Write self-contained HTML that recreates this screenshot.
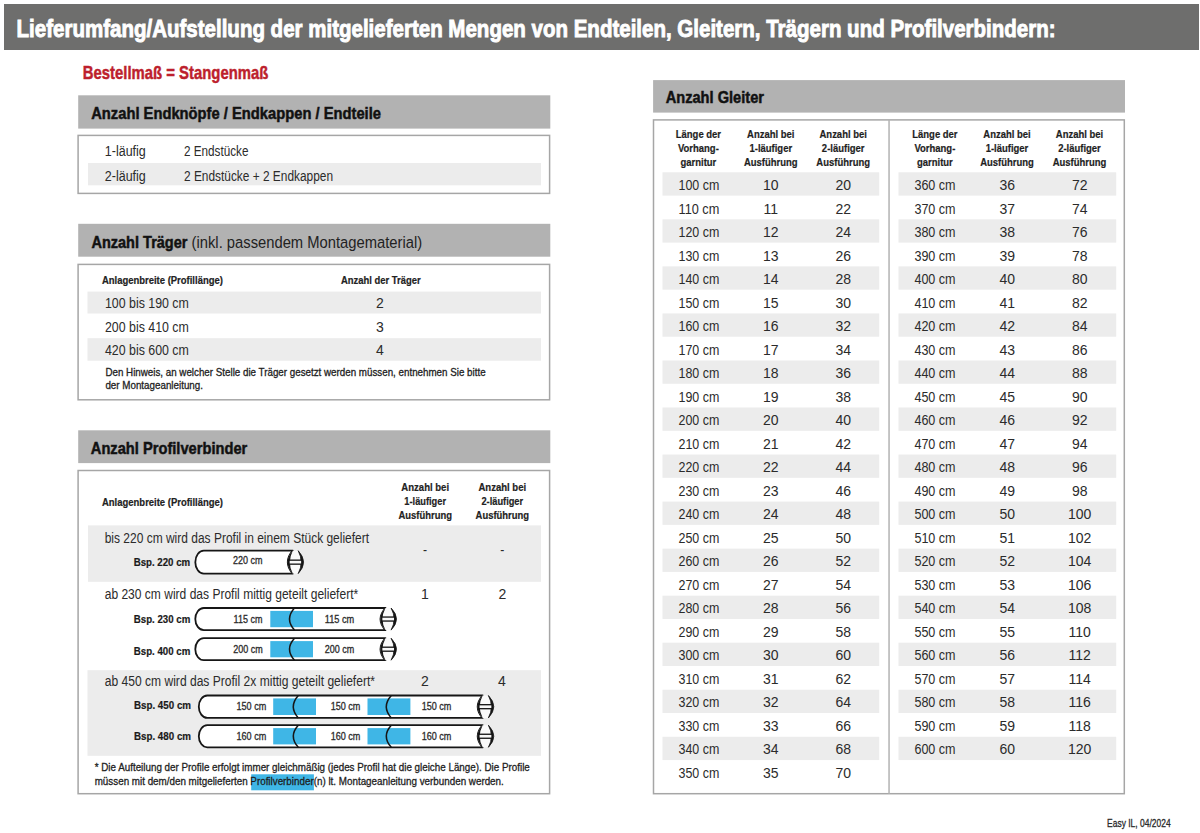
<!DOCTYPE html>
<html><head><meta charset="utf-8"><title>Lieferumfang</title>
<style>html,body{margin:0;padding:0;background:#fff;}body{width:1200px;height:833px;position:relative;overflow:hidden;font-family:"Liberation Sans",sans-serif;}</style>
</head><body>
<svg width="1200" height="833" viewBox="0 0 1200 833" style="position:absolute;left:0;top:0">
<rect x="4.00" y="4.00" width="1195.00" height="46.00" fill="#6e6e6d"/>
<rect x="78.20" y="95.30" width="472.10" height="33.30" fill="#b2b2b2"/>
<rect x="78.10" y="135.40" width="471.50" height="58.00" fill="none" stroke="#a6a6a6" stroke-width="1.5"/>
<rect x="88.00" y="163.00" width="453.00" height="22.30" fill="#ececec"/>
<rect x="78.20" y="223.80" width="472.10" height="32.90" fill="#b2b2b2"/>
<rect x="78.10" y="264.40" width="471.50" height="135.40" fill="none" stroke="#a6a6a6" stroke-width="1.5"/>
<rect x="87.50" y="291.60" width="453.50" height="21.90" fill="#ececec"/>
<rect x="87.50" y="338.20" width="453.50" height="22.50" fill="#ececec"/>
<rect x="78.20" y="430.30" width="472.10" height="32.80" fill="#b2b2b2"/>
<rect x="78.10" y="470.50" width="471.50" height="323.20" fill="none" stroke="#a6a6a6" stroke-width="1.5"/>
<rect x="88.00" y="525.40" width="453.00" height="56.40" fill="#ececec"/>
<path d="M203.80,550.70 L292.80,550.70 Q282.80,562.15 292.80,573.60 L203.80,573.60 A8.5,11.45 0 0 1 203.80,550.70 Z" fill="#fff" stroke="#161616" stroke-width="1.8" stroke-linejoin="round"/><path d="M292.80,550.70 L298.20,550.70 Q309.00,562.15 298.20,573.60 L292.80,573.60 Q282.80,562.15 292.80,550.70 Z" fill="#fafafa"/><path d="M292.80,550.70 Q282.30,562.15 292.80,573.60 Q286.80,562.15 292.80,550.70 Z" fill="#161616"/><path d="M298.20,550.70 Q309.00,562.15 298.20,573.60 Q304.20,562.15 298.20,550.70 Z" fill="#161616" stroke="#161616" stroke-width="0.8"/><rect x="289.00" y="560.15" width="12.80" height="4.0" fill="#f8f8f8" stroke="#111" stroke-width="1.3"/>
<path d="M203.80,608.00 L385.50,608.00 Q375.50,619.05 385.50,630.10 L203.80,630.10 A8.5,11.05 0 0 1 203.80,608.00 Z" fill="#fff" stroke="#161616" stroke-width="1.8" stroke-linejoin="round"/><rect x="270.30" y="610.90" width="42.70" height="16.30" fill="#3fb6e6"/><path d="M294.50,608.00 Q284.50,619.05 294.50,630.10" fill="none" stroke="#161616" stroke-width="1.5"/><path d="M385.50,608.00 L391.10,608.00 Q401.90,619.05 391.10,630.10 L385.50,630.10 Q375.50,619.05 385.50,608.00 Z" fill="#fafafa"/><path d="M385.50,608.00 Q375.00,619.05 385.50,630.10 Q379.50,619.05 385.50,608.00 Z" fill="#161616"/><path d="M391.10,608.00 Q401.90,619.05 391.10,630.10 Q397.10,619.05 391.10,608.00 Z" fill="#161616" stroke="#161616" stroke-width="0.8"/><rect x="381.70" y="617.05" width="13.00" height="4.0" fill="#f8f8f8" stroke="#111" stroke-width="1.3"/>
<path d="M203.80,638.20 L385.50,638.20 Q375.50,649.20 385.50,660.20 L203.80,660.20 A8.5,11.00 0 0 1 203.80,638.20 Z" fill="#fff" stroke="#161616" stroke-width="1.8" stroke-linejoin="round"/><rect x="270.30" y="641.10" width="42.70" height="16.20" fill="#3fb6e6"/><path d="M294.50,638.20 Q284.50,649.20 294.50,660.20" fill="none" stroke="#161616" stroke-width="1.5"/><path d="M385.50,638.20 L391.10,638.20 Q401.90,649.20 391.10,660.20 L385.50,660.20 Q375.50,649.20 385.50,638.20 Z" fill="#fafafa"/><path d="M385.50,638.20 Q375.00,649.20 385.50,660.20 Q379.50,649.20 385.50,638.20 Z" fill="#161616"/><path d="M391.10,638.20 Q401.90,649.20 391.10,660.20 Q397.10,649.20 391.10,638.20 Z" fill="#161616" stroke="#161616" stroke-width="0.8"/><rect x="381.70" y="647.20" width="13.00" height="4.0" fill="#f8f8f8" stroke="#111" stroke-width="1.3"/>
<rect x="87.50" y="670.20" width="453.50" height="85.60" fill="#ececec"/>
<path d="M207.30,695.50 L482.70,695.50 Q472.70,706.70 482.70,717.90 L207.30,717.90 A8.5,11.20 0 0 1 207.30,695.50 Z" fill="#fff" stroke="#161616" stroke-width="1.8" stroke-linejoin="round"/><rect x="273.20" y="698.40" width="42.80" height="16.60" fill="#3fb6e6"/><rect x="367.50" y="698.40" width="42.90" height="16.60" fill="#3fb6e6"/><path d="M298.30,695.50 Q288.30,706.70 298.30,717.90" fill="none" stroke="#161616" stroke-width="1.5"/><path d="M391.30,695.50 Q381.30,706.70 391.30,717.90" fill="none" stroke="#161616" stroke-width="1.5"/><path d="M482.70,695.50 L488.40,695.50 Q499.20,706.70 488.40,717.90 L482.70,717.90 Q472.70,706.70 482.70,695.50 Z" fill="#fafafa"/><path d="M482.70,695.50 Q472.20,706.70 482.70,717.90 Q476.70,706.70 482.70,695.50 Z" fill="#161616"/><path d="M488.40,695.50 Q499.20,706.70 488.40,717.90 Q494.40,706.70 488.40,695.50 Z" fill="#161616" stroke="#161616" stroke-width="0.8"/><rect x="478.90" y="704.70" width="13.10" height="4.0" fill="#f8f8f8" stroke="#111" stroke-width="1.3"/>
<path d="M207.30,725.20 L482.70,725.20 Q472.70,736.25 482.70,747.30 L207.30,747.30 A8.5,11.05 0 0 1 207.30,725.20 Z" fill="#fff" stroke="#161616" stroke-width="1.8" stroke-linejoin="round"/><rect x="273.20" y="728.10" width="42.80" height="16.30" fill="#3fb6e6"/><rect x="367.50" y="728.10" width="42.90" height="16.30" fill="#3fb6e6"/><path d="M298.30,725.20 Q288.30,736.25 298.30,747.30" fill="none" stroke="#161616" stroke-width="1.5"/><path d="M391.30,725.20 Q381.30,736.25 391.30,747.30" fill="none" stroke="#161616" stroke-width="1.5"/><path d="M482.70,725.20 L488.40,725.20 Q499.20,736.25 488.40,747.30 L482.70,747.30 Q472.70,736.25 482.70,725.20 Z" fill="#fafafa"/><path d="M482.70,725.20 Q472.20,736.25 482.70,747.30 Q476.70,736.25 482.70,725.20 Z" fill="#161616"/><path d="M488.40,725.20 Q499.20,736.25 488.40,747.30 Q494.40,736.25 488.40,725.20 Z" fill="#161616" stroke="#161616" stroke-width="0.8"/><rect x="478.90" y="734.25" width="13.10" height="4.0" fill="#f8f8f8" stroke="#111" stroke-width="1.3"/>
<rect x="251.20" y="774.30" width="62.70" height="16.00" fill="#3fb6e6"/>
<rect x="653.10" y="80.10" width="471.90" height="32.50" fill="#b2b2b2"/>
<rect x="653.50" y="119.90" width="470.80" height="673.80" fill="none" stroke="#a6a6a6" stroke-width="1.5"/>
<rect x="888.30" y="119.90" width="1.50" height="673.80" fill="#b3b3b3"/>
<rect x="662.50" y="172.30" width="216.70" height="23.30" fill="#ececec"/>
<rect x="662.50" y="219.34" width="216.70" height="23.30" fill="#ececec"/>
<rect x="662.50" y="266.38" width="216.70" height="23.30" fill="#ececec"/>
<rect x="662.50" y="313.42" width="216.70" height="23.30" fill="#ececec"/>
<rect x="662.50" y="360.46" width="216.70" height="23.30" fill="#ececec"/>
<rect x="662.50" y="407.50" width="216.70" height="23.30" fill="#ececec"/>
<rect x="662.50" y="454.54" width="216.70" height="23.30" fill="#ececec"/>
<rect x="662.50" y="501.58" width="216.70" height="23.30" fill="#ececec"/>
<rect x="662.50" y="548.62" width="216.70" height="23.30" fill="#ececec"/>
<rect x="662.50" y="595.66" width="216.70" height="23.30" fill="#ececec"/>
<rect x="662.50" y="642.70" width="216.70" height="23.30" fill="#ececec"/>
<rect x="662.50" y="689.74" width="216.70" height="23.30" fill="#ececec"/>
<rect x="662.50" y="736.78" width="216.70" height="23.30" fill="#ececec"/>
<rect x="898.50" y="172.30" width="217.70" height="23.30" fill="#ececec"/>
<rect x="898.50" y="219.34" width="217.70" height="23.30" fill="#ececec"/>
<rect x="898.50" y="266.38" width="217.70" height="23.30" fill="#ececec"/>
<rect x="898.50" y="313.42" width="217.70" height="23.30" fill="#ececec"/>
<rect x="898.50" y="360.46" width="217.70" height="23.30" fill="#ececec"/>
<rect x="898.50" y="407.50" width="217.70" height="23.30" fill="#ececec"/>
<rect x="898.50" y="454.54" width="217.70" height="23.30" fill="#ececec"/>
<rect x="898.50" y="501.58" width="217.70" height="23.30" fill="#ececec"/>
<rect x="898.50" y="548.62" width="217.70" height="23.30" fill="#ececec"/>
<rect x="898.50" y="595.66" width="217.70" height="23.30" fill="#ececec"/>
<rect x="898.50" y="642.70" width="217.70" height="23.30" fill="#ececec"/>
<rect x="898.50" y="689.74" width="217.70" height="23.30" fill="#ececec"/>
<rect x="898.50" y="736.78" width="217.70" height="23.30" fill="#ececec"/>
<g font-family='"Liberation Sans", sans-serif' xml:space="preserve">
<text x="16.60" y="36.50" font-size="24.2" font-weight="bold" fill="#ffffff" stroke="#ffffff" stroke-width="0.9" textLength="1039.00" lengthAdjust="spacingAndGlyphs">Lieferumfang/Aufstellung der mitgelieferten Mengen von Endteilen, Gleitern, Trägern und Profilverbindern:</text>
<text x="82.80" y="79.30" font-size="17.7" font-weight="bold" fill="#bd1f2d" stroke="#bd1f2d" stroke-width="0.45" textLength="185.60" lengthAdjust="spacingAndGlyphs">Bestellmaß = Stangenmaß</text>
<text x="91.20" y="118.80" font-size="16.9" font-weight="bold" fill="#111111" stroke="#111111" stroke-width="0.5" textLength="289.80" lengthAdjust="spacingAndGlyphs">Anzahl Endknöpfe / Endkappen / Endteile</text>
<text x="104.80" y="156.10" font-size="14" fill="#2b2b2b" textLength="41.00" lengthAdjust="spacingAndGlyphs">1-läufig</text>
<text x="184.00" y="156.10" font-size="14" fill="#2b2b2b" textLength="64.50" lengthAdjust="spacingAndGlyphs">2 Endstücke</text>
<text x="104.80" y="180.70" font-size="14" fill="#2b2b2b" textLength="41.00" lengthAdjust="spacingAndGlyphs">2-läufig</text>
<text x="184.00" y="180.70" font-size="14" fill="#2b2b2b" textLength="149.00" lengthAdjust="spacingAndGlyphs">2 Endstücke + 2 Endkappen</text>
<text x="91.40" y="247.50" font-size="16.9" font-weight="bold" fill="#111111" stroke="#111111" stroke-width="0.5" textLength="96.10" lengthAdjust="spacingAndGlyphs">Anzahl Träger</text>
<text x="191.60" y="247.50" font-size="16.7" fill="#222" textLength="230.50" lengthAdjust="spacingAndGlyphs">(inkl. passendem Montagematerial)</text>
<text x="101.90" y="284.40" font-size="10.9" font-weight="bold" fill="#222" stroke="#222" stroke-width="0.2" textLength="121.00" lengthAdjust="spacingAndGlyphs">Anlagenbreite (Profillänge)</text>
<text x="341.00" y="284.40" font-size="10.9" font-weight="bold" fill="#222" stroke="#222" stroke-width="0.2" textLength="79.60" lengthAdjust="spacingAndGlyphs">Anzahl der Träger</text>
<text x="104.90" y="308.10" font-size="14" fill="#2b2b2b" textLength="84.00" lengthAdjust="spacingAndGlyphs">100 bis 190 cm</text>
<text x="376.10" y="308.10" font-size="14" fill="#2b2b2b" textLength="7.80" lengthAdjust="spacingAndGlyphs">2</text>
<text x="104.90" y="331.50" font-size="14" fill="#2b2b2b" textLength="84.00" lengthAdjust="spacingAndGlyphs">200 bis 410 cm</text>
<text x="376.10" y="331.50" font-size="14" fill="#2b2b2b" textLength="7.80" lengthAdjust="spacingAndGlyphs">3</text>
<text x="104.90" y="355.30" font-size="14" fill="#2b2b2b" textLength="84.00" lengthAdjust="spacingAndGlyphs">420 bis 600 cm</text>
<text x="376.10" y="355.30" font-size="14" fill="#2b2b2b" textLength="7.80" lengthAdjust="spacingAndGlyphs">4</text>
<text x="105.40" y="376.40" font-size="10.9" fill="#222" stroke="#222" stroke-width="0.3" textLength="380.20" lengthAdjust="spacingAndGlyphs">Den Hinweis, an welcher Stelle die Träger gesetzt werden müssen, entnehmen Sie bitte</text>
<text x="105.40" y="389.40" font-size="10.9" fill="#222" stroke="#222" stroke-width="0.3" textLength="97.60" lengthAdjust="spacingAndGlyphs">der Montageanleitung.</text>
<text x="90.80" y="453.50" font-size="16.9" font-weight="bold" fill="#111111" stroke="#111111" stroke-width="0.5" textLength="156.50" lengthAdjust="spacingAndGlyphs">Anzahl Profilverbinder</text>
<text x="102.00" y="505.50" font-size="10.9" font-weight="bold" fill="#222" stroke="#222" stroke-width="0.2" textLength="121.00" lengthAdjust="spacingAndGlyphs">Anlagenbreite (Profillänge)</text>
<text x="401.35" y="491.00" font-size="10.9" font-weight="bold" fill="#222" stroke="#222" stroke-width="0.2" textLength="47.70" lengthAdjust="spacingAndGlyphs">Anzahl bei</text>
<text x="404.36" y="504.90" font-size="10.9" font-weight="bold" fill="#222" stroke="#222" stroke-width="0.2" textLength="41.68" lengthAdjust="spacingAndGlyphs">1-läufiger</text>
<text x="398.50" y="518.80" font-size="10.9" font-weight="bold" fill="#222" stroke="#222" stroke-width="0.2" textLength="53.40" lengthAdjust="spacingAndGlyphs">Ausführung</text>
<text x="478.45" y="491.00" font-size="10.9" font-weight="bold" fill="#222" stroke="#222" stroke-width="0.2" textLength="47.70" lengthAdjust="spacingAndGlyphs">Anzahl bei</text>
<text x="481.46" y="504.90" font-size="10.9" font-weight="bold" fill="#222" stroke="#222" stroke-width="0.2" textLength="41.68" lengthAdjust="spacingAndGlyphs">2-läufiger</text>
<text x="475.60" y="518.80" font-size="10.9" font-weight="bold" fill="#222" stroke="#222" stroke-width="0.2" textLength="53.40" lengthAdjust="spacingAndGlyphs">Ausführung</text>
<text x="104.70" y="543.10" font-size="14" fill="#2b2b2b" textLength="264.40" lengthAdjust="spacingAndGlyphs">bis 220 cm wird das Profil in einem Stück geliefert</text>
<text x="422.97" y="555.30" font-size="14" fill="#2b2b2b" textLength="4.06" lengthAdjust="spacingAndGlyphs">-</text>
<text x="500.27" y="555.30" font-size="14" fill="#2b2b2b" textLength="4.06" lengthAdjust="spacingAndGlyphs">-</text>
<text x="133.70" y="566.10" font-size="11.6" font-weight="bold" fill="#1a1a1a" stroke="#1a1a1a" stroke-width="0.2" textLength="56.50" lengthAdjust="spacingAndGlyphs">Bsp. 220 cm</text>
<text x="232.95" y="564.40" font-size="10.2" fill="#2b2b2b" stroke="#2b2b2b" stroke-width="0.3" textLength="29.50" lengthAdjust="spacingAndGlyphs">220 cm</text>
<text x="104.70" y="598.70" font-size="14" fill="#2b2b2b" textLength="253.50" lengthAdjust="spacingAndGlyphs">ab 230 cm wird das Profil mittig geteilt geliefert*</text>
<text x="421.10" y="599.30" font-size="14" fill="#2b2b2b" textLength="7.80" lengthAdjust="spacingAndGlyphs">1</text>
<text x="498.40" y="599.30" font-size="14" fill="#2b2b2b" textLength="7.80" lengthAdjust="spacingAndGlyphs">2</text>
<text x="133.80" y="623.00" font-size="11.6" font-weight="bold" fill="#1a1a1a" stroke="#1a1a1a" stroke-width="0.2" textLength="56.50" lengthAdjust="spacingAndGlyphs">Bsp. 230 cm</text>
<text x="133.80" y="654.50" font-size="11.6" font-weight="bold" fill="#1a1a1a" stroke="#1a1a1a" stroke-width="0.2" textLength="56.50" lengthAdjust="spacingAndGlyphs">Bsp. 400 cm</text>
<text x="233.60" y="622.50" font-size="10.2" fill="#2b2b2b" stroke="#2b2b2b" stroke-width="0.3" textLength="28.80" lengthAdjust="spacingAndGlyphs">115 cm</text>
<text x="324.75" y="622.50" font-size="10.2" fill="#2b2b2b" stroke="#2b2b2b" stroke-width="0.3" textLength="29.50" lengthAdjust="spacingAndGlyphs">115 cm</text>
<text x="233.25" y="652.70" font-size="10.2" fill="#2b2b2b" stroke="#2b2b2b" stroke-width="0.3" textLength="29.50" lengthAdjust="spacingAndGlyphs">200 cm</text>
<text x="324.75" y="652.70" font-size="10.2" fill="#2b2b2b" stroke="#2b2b2b" stroke-width="0.3" textLength="29.50" lengthAdjust="spacingAndGlyphs">200 cm</text>
<text x="104.80" y="686.00" font-size="14" fill="#2b2b2b" textLength="270.20" lengthAdjust="spacingAndGlyphs">ab 450 cm wird das Profil 2x mittig geteilt geliefert*</text>
<text x="420.90" y="686.00" font-size="14" fill="#2b2b2b" textLength="7.80" lengthAdjust="spacingAndGlyphs">2</text>
<text x="498.10" y="686.00" font-size="14" fill="#2b2b2b" textLength="7.80" lengthAdjust="spacingAndGlyphs">4</text>
<text x="134.00" y="708.80" font-size="11.6" font-weight="bold" fill="#1a1a1a" stroke="#1a1a1a" stroke-width="0.2" textLength="57.00" lengthAdjust="spacingAndGlyphs">Bsp. 450 cm</text>
<text x="134.00" y="740.00" font-size="11.6" font-weight="bold" fill="#1a1a1a" stroke="#1a1a1a" stroke-width="0.2" textLength="57.00" lengthAdjust="spacingAndGlyphs">Bsp. 480 cm</text>
<text x="236.55" y="710.30" font-size="10.2" fill="#2b2b2b" stroke="#2b2b2b" stroke-width="0.3" textLength="29.70" lengthAdjust="spacingAndGlyphs">150 cm</text>
<text x="330.65" y="710.30" font-size="10.2" fill="#2b2b2b" stroke="#2b2b2b" stroke-width="0.3" textLength="29.70" lengthAdjust="spacingAndGlyphs">150 cm</text>
<text x="421.65" y="710.30" font-size="10.2" fill="#2b2b2b" stroke="#2b2b2b" stroke-width="0.3" textLength="29.70" lengthAdjust="spacingAndGlyphs">150 cm</text>
<text x="236.55" y="739.80" font-size="10.2" fill="#2b2b2b" stroke="#2b2b2b" stroke-width="0.3" textLength="29.70" lengthAdjust="spacingAndGlyphs">160 cm</text>
<text x="330.65" y="739.80" font-size="10.2" fill="#2b2b2b" stroke="#2b2b2b" stroke-width="0.3" textLength="29.70" lengthAdjust="spacingAndGlyphs">160 cm</text>
<text x="421.65" y="739.80" font-size="10.2" fill="#2b2b2b" stroke="#2b2b2b" stroke-width="0.3" textLength="29.70" lengthAdjust="spacingAndGlyphs">160 cm</text>
<text x="94.70" y="770.80" font-size="10.9" fill="#1e1e1e" stroke="#1e1e1e" stroke-width="0.3" textLength="435.10" lengthAdjust="spacingAndGlyphs">* Die Aufteilung der Profile erfolgt immer gleichmäßig (jedes Profil hat die gleiche Länge). Die Profile</text>
<text x="94.70" y="784.70" font-size="10.9" fill="#1e1e1e" stroke="#1e1e1e" stroke-width="0.3" textLength="409.10" lengthAdjust="spacingAndGlyphs">müssen mit dem/den mitgelieferten Profilverbinder(n) lt. Montageanleitung verbunden werden.</text>
<text x="665.70" y="102.70" font-size="16.9" font-weight="bold" fill="#111111" stroke="#111111" stroke-width="0.5" textLength="98.30" lengthAdjust="spacingAndGlyphs">Anzahl Gleiter</text>
<text x="675.76" y="137.90" font-size="10.9" font-weight="bold" fill="#1e1e1e" stroke="#1e1e1e" stroke-width="0.2" textLength="45.28" lengthAdjust="spacingAndGlyphs">Länge der</text>
<text x="677.95" y="152.10" font-size="10.9" font-weight="bold" fill="#1e1e1e" stroke="#1e1e1e" stroke-width="0.2" textLength="40.89" lengthAdjust="spacingAndGlyphs">Vorhang-</text>
<text x="680.50" y="166.00" font-size="10.9" font-weight="bold" fill="#1e1e1e" stroke="#1e1e1e" stroke-width="0.2" textLength="35.81" lengthAdjust="spacingAndGlyphs">garnitur</text>
<text x="747.11" y="137.90" font-size="10.9" font-weight="bold" fill="#1e1e1e" stroke="#1e1e1e" stroke-width="0.2" textLength="47.39" lengthAdjust="spacingAndGlyphs">Anzahl bei</text>
<text x="749.47" y="152.10" font-size="10.9" font-weight="bold" fill="#1e1e1e" stroke="#1e1e1e" stroke-width="0.2" textLength="42.66" lengthAdjust="spacingAndGlyphs">1-läufiger</text>
<text x="743.96" y="166.00" font-size="10.9" font-weight="bold" fill="#1e1e1e" stroke="#1e1e1e" stroke-width="0.2" textLength="53.68" lengthAdjust="spacingAndGlyphs">Ausführung</text>
<text x="819.51" y="137.90" font-size="10.9" font-weight="bold" fill="#1e1e1e" stroke="#1e1e1e" stroke-width="0.2" textLength="47.39" lengthAdjust="spacingAndGlyphs">Anzahl bei</text>
<text x="821.87" y="152.10" font-size="10.9" font-weight="bold" fill="#1e1e1e" stroke="#1e1e1e" stroke-width="0.2" textLength="42.66" lengthAdjust="spacingAndGlyphs">2-läufiger</text>
<text x="816.36" y="166.00" font-size="10.9" font-weight="bold" fill="#1e1e1e" stroke="#1e1e1e" stroke-width="0.2" textLength="53.68" lengthAdjust="spacingAndGlyphs">Ausführung</text>
<text x="912.26" y="137.90" font-size="10.9" font-weight="bold" fill="#1e1e1e" stroke="#1e1e1e" stroke-width="0.2" textLength="45.28" lengthAdjust="spacingAndGlyphs">Länge der</text>
<text x="914.45" y="152.10" font-size="10.9" font-weight="bold" fill="#1e1e1e" stroke="#1e1e1e" stroke-width="0.2" textLength="40.89" lengthAdjust="spacingAndGlyphs">Vorhang-</text>
<text x="917.00" y="166.00" font-size="10.9" font-weight="bold" fill="#1e1e1e" stroke="#1e1e1e" stroke-width="0.2" textLength="35.81" lengthAdjust="spacingAndGlyphs">garnitur</text>
<text x="983.31" y="137.90" font-size="10.9" font-weight="bold" fill="#1e1e1e" stroke="#1e1e1e" stroke-width="0.2" textLength="47.39" lengthAdjust="spacingAndGlyphs">Anzahl bei</text>
<text x="985.67" y="152.10" font-size="10.9" font-weight="bold" fill="#1e1e1e" stroke="#1e1e1e" stroke-width="0.2" textLength="42.66" lengthAdjust="spacingAndGlyphs">1-läufiger</text>
<text x="980.16" y="166.00" font-size="10.9" font-weight="bold" fill="#1e1e1e" stroke="#1e1e1e" stroke-width="0.2" textLength="53.68" lengthAdjust="spacingAndGlyphs">Ausführung</text>
<text x="1055.81" y="137.90" font-size="10.9" font-weight="bold" fill="#1e1e1e" stroke="#1e1e1e" stroke-width="0.2" textLength="47.39" lengthAdjust="spacingAndGlyphs">Anzahl bei</text>
<text x="1058.17" y="152.10" font-size="10.9" font-weight="bold" fill="#1e1e1e" stroke="#1e1e1e" stroke-width="0.2" textLength="42.66" lengthAdjust="spacingAndGlyphs">2-läufiger</text>
<text x="1052.66" y="166.00" font-size="10.9" font-weight="bold" fill="#1e1e1e" stroke="#1e1e1e" stroke-width="0.2" textLength="53.68" lengthAdjust="spacingAndGlyphs">Ausführung</text>
<text x="678.50" y="190.00" font-size="14" fill="#2b2b2b" textLength="40.80" lengthAdjust="spacingAndGlyphs">100 cm</text>
<text x="763.01" y="190.00" font-size="14" fill="#2b2b2b" textLength="15.58" lengthAdjust="spacingAndGlyphs">10</text>
<text x="835.51" y="190.00" font-size="14" fill="#2b2b2b" textLength="15.58" lengthAdjust="spacingAndGlyphs">20</text>
<text x="678.50" y="213.52" font-size="14" fill="#2b2b2b" textLength="40.80" lengthAdjust="spacingAndGlyphs">110 cm</text>
<text x="763.53" y="213.52" font-size="14" fill="#2b2b2b" textLength="14.55" lengthAdjust="spacingAndGlyphs">11</text>
<text x="835.51" y="213.52" font-size="14" fill="#2b2b2b" textLength="15.58" lengthAdjust="spacingAndGlyphs">22</text>
<text x="678.50" y="237.04" font-size="14" fill="#2b2b2b" textLength="40.80" lengthAdjust="spacingAndGlyphs">120 cm</text>
<text x="763.01" y="237.04" font-size="14" fill="#2b2b2b" textLength="15.58" lengthAdjust="spacingAndGlyphs">12</text>
<text x="835.51" y="237.04" font-size="14" fill="#2b2b2b" textLength="15.58" lengthAdjust="spacingAndGlyphs">24</text>
<text x="678.50" y="260.56" font-size="14" fill="#2b2b2b" textLength="40.80" lengthAdjust="spacingAndGlyphs">130 cm</text>
<text x="763.01" y="260.56" font-size="14" fill="#2b2b2b" textLength="15.58" lengthAdjust="spacingAndGlyphs">13</text>
<text x="835.51" y="260.56" font-size="14" fill="#2b2b2b" textLength="15.58" lengthAdjust="spacingAndGlyphs">26</text>
<text x="678.50" y="284.08" font-size="14" fill="#2b2b2b" textLength="40.80" lengthAdjust="spacingAndGlyphs">140 cm</text>
<text x="763.01" y="284.08" font-size="14" fill="#2b2b2b" textLength="15.58" lengthAdjust="spacingAndGlyphs">14</text>
<text x="835.51" y="284.08" font-size="14" fill="#2b2b2b" textLength="15.58" lengthAdjust="spacingAndGlyphs">28</text>
<text x="678.50" y="307.60" font-size="14" fill="#2b2b2b" textLength="40.80" lengthAdjust="spacingAndGlyphs">150 cm</text>
<text x="763.01" y="307.60" font-size="14" fill="#2b2b2b" textLength="15.58" lengthAdjust="spacingAndGlyphs">15</text>
<text x="835.51" y="307.60" font-size="14" fill="#2b2b2b" textLength="15.58" lengthAdjust="spacingAndGlyphs">30</text>
<text x="678.50" y="331.12" font-size="14" fill="#2b2b2b" textLength="40.80" lengthAdjust="spacingAndGlyphs">160 cm</text>
<text x="763.01" y="331.12" font-size="14" fill="#2b2b2b" textLength="15.58" lengthAdjust="spacingAndGlyphs">16</text>
<text x="835.51" y="331.12" font-size="14" fill="#2b2b2b" textLength="15.58" lengthAdjust="spacingAndGlyphs">32</text>
<text x="678.50" y="354.64" font-size="14" fill="#2b2b2b" textLength="40.80" lengthAdjust="spacingAndGlyphs">170 cm</text>
<text x="763.01" y="354.64" font-size="14" fill="#2b2b2b" textLength="15.58" lengthAdjust="spacingAndGlyphs">17</text>
<text x="835.51" y="354.64" font-size="14" fill="#2b2b2b" textLength="15.58" lengthAdjust="spacingAndGlyphs">34</text>
<text x="678.50" y="378.16" font-size="14" fill="#2b2b2b" textLength="40.80" lengthAdjust="spacingAndGlyphs">180 cm</text>
<text x="763.01" y="378.16" font-size="14" fill="#2b2b2b" textLength="15.58" lengthAdjust="spacingAndGlyphs">18</text>
<text x="835.51" y="378.16" font-size="14" fill="#2b2b2b" textLength="15.58" lengthAdjust="spacingAndGlyphs">36</text>
<text x="678.50" y="401.68" font-size="14" fill="#2b2b2b" textLength="40.80" lengthAdjust="spacingAndGlyphs">190 cm</text>
<text x="763.01" y="401.68" font-size="14" fill="#2b2b2b" textLength="15.58" lengthAdjust="spacingAndGlyphs">19</text>
<text x="835.51" y="401.68" font-size="14" fill="#2b2b2b" textLength="15.58" lengthAdjust="spacingAndGlyphs">38</text>
<text x="678.50" y="425.20" font-size="14" fill="#2b2b2b" textLength="40.80" lengthAdjust="spacingAndGlyphs">200 cm</text>
<text x="763.01" y="425.20" font-size="14" fill="#2b2b2b" textLength="15.58" lengthAdjust="spacingAndGlyphs">20</text>
<text x="835.51" y="425.20" font-size="14" fill="#2b2b2b" textLength="15.58" lengthAdjust="spacingAndGlyphs">40</text>
<text x="678.50" y="448.72" font-size="14" fill="#2b2b2b" textLength="40.80" lengthAdjust="spacingAndGlyphs">210 cm</text>
<text x="763.01" y="448.72" font-size="14" fill="#2b2b2b" textLength="15.58" lengthAdjust="spacingAndGlyphs">21</text>
<text x="835.51" y="448.72" font-size="14" fill="#2b2b2b" textLength="15.58" lengthAdjust="spacingAndGlyphs">42</text>
<text x="678.50" y="472.24" font-size="14" fill="#2b2b2b" textLength="40.80" lengthAdjust="spacingAndGlyphs">220 cm</text>
<text x="763.01" y="472.24" font-size="14" fill="#2b2b2b" textLength="15.58" lengthAdjust="spacingAndGlyphs">22</text>
<text x="835.51" y="472.24" font-size="14" fill="#2b2b2b" textLength="15.58" lengthAdjust="spacingAndGlyphs">44</text>
<text x="678.50" y="495.76" font-size="14" fill="#2b2b2b" textLength="40.80" lengthAdjust="spacingAndGlyphs">230 cm</text>
<text x="763.01" y="495.76" font-size="14" fill="#2b2b2b" textLength="15.58" lengthAdjust="spacingAndGlyphs">23</text>
<text x="835.51" y="495.76" font-size="14" fill="#2b2b2b" textLength="15.58" lengthAdjust="spacingAndGlyphs">46</text>
<text x="678.50" y="519.28" font-size="14" fill="#2b2b2b" textLength="40.80" lengthAdjust="spacingAndGlyphs">240 cm</text>
<text x="763.01" y="519.28" font-size="14" fill="#2b2b2b" textLength="15.58" lengthAdjust="spacingAndGlyphs">24</text>
<text x="835.51" y="519.28" font-size="14" fill="#2b2b2b" textLength="15.58" lengthAdjust="spacingAndGlyphs">48</text>
<text x="678.50" y="542.80" font-size="14" fill="#2b2b2b" textLength="40.80" lengthAdjust="spacingAndGlyphs">250 cm</text>
<text x="763.01" y="542.80" font-size="14" fill="#2b2b2b" textLength="15.58" lengthAdjust="spacingAndGlyphs">25</text>
<text x="835.51" y="542.80" font-size="14" fill="#2b2b2b" textLength="15.58" lengthAdjust="spacingAndGlyphs">50</text>
<text x="678.50" y="566.32" font-size="14" fill="#2b2b2b" textLength="40.80" lengthAdjust="spacingAndGlyphs">260 cm</text>
<text x="763.01" y="566.32" font-size="14" fill="#2b2b2b" textLength="15.58" lengthAdjust="spacingAndGlyphs">26</text>
<text x="835.51" y="566.32" font-size="14" fill="#2b2b2b" textLength="15.58" lengthAdjust="spacingAndGlyphs">52</text>
<text x="678.50" y="589.84" font-size="14" fill="#2b2b2b" textLength="40.80" lengthAdjust="spacingAndGlyphs">270 cm</text>
<text x="763.01" y="589.84" font-size="14" fill="#2b2b2b" textLength="15.58" lengthAdjust="spacingAndGlyphs">27</text>
<text x="835.51" y="589.84" font-size="14" fill="#2b2b2b" textLength="15.58" lengthAdjust="spacingAndGlyphs">54</text>
<text x="678.50" y="613.36" font-size="14" fill="#2b2b2b" textLength="40.80" lengthAdjust="spacingAndGlyphs">280 cm</text>
<text x="763.01" y="613.36" font-size="14" fill="#2b2b2b" textLength="15.58" lengthAdjust="spacingAndGlyphs">28</text>
<text x="835.51" y="613.36" font-size="14" fill="#2b2b2b" textLength="15.58" lengthAdjust="spacingAndGlyphs">56</text>
<text x="678.50" y="636.88" font-size="14" fill="#2b2b2b" textLength="40.80" lengthAdjust="spacingAndGlyphs">290 cm</text>
<text x="763.01" y="636.88" font-size="14" fill="#2b2b2b" textLength="15.58" lengthAdjust="spacingAndGlyphs">29</text>
<text x="835.51" y="636.88" font-size="14" fill="#2b2b2b" textLength="15.58" lengthAdjust="spacingAndGlyphs">58</text>
<text x="678.50" y="660.40" font-size="14" fill="#2b2b2b" textLength="40.80" lengthAdjust="spacingAndGlyphs">300 cm</text>
<text x="763.01" y="660.40" font-size="14" fill="#2b2b2b" textLength="15.58" lengthAdjust="spacingAndGlyphs">30</text>
<text x="835.51" y="660.40" font-size="14" fill="#2b2b2b" textLength="15.58" lengthAdjust="spacingAndGlyphs">60</text>
<text x="678.50" y="683.92" font-size="14" fill="#2b2b2b" textLength="40.80" lengthAdjust="spacingAndGlyphs">310 cm</text>
<text x="763.01" y="683.92" font-size="14" fill="#2b2b2b" textLength="15.58" lengthAdjust="spacingAndGlyphs">31</text>
<text x="835.51" y="683.92" font-size="14" fill="#2b2b2b" textLength="15.58" lengthAdjust="spacingAndGlyphs">62</text>
<text x="678.50" y="707.44" font-size="14" fill="#2b2b2b" textLength="40.80" lengthAdjust="spacingAndGlyphs">320 cm</text>
<text x="763.01" y="707.44" font-size="14" fill="#2b2b2b" textLength="15.58" lengthAdjust="spacingAndGlyphs">32</text>
<text x="835.51" y="707.44" font-size="14" fill="#2b2b2b" textLength="15.58" lengthAdjust="spacingAndGlyphs">64</text>
<text x="678.50" y="730.96" font-size="14" fill="#2b2b2b" textLength="40.80" lengthAdjust="spacingAndGlyphs">330 cm</text>
<text x="763.01" y="730.96" font-size="14" fill="#2b2b2b" textLength="15.58" lengthAdjust="spacingAndGlyphs">33</text>
<text x="835.51" y="730.96" font-size="14" fill="#2b2b2b" textLength="15.58" lengthAdjust="spacingAndGlyphs">66</text>
<text x="678.50" y="754.48" font-size="14" fill="#2b2b2b" textLength="40.80" lengthAdjust="spacingAndGlyphs">340 cm</text>
<text x="763.01" y="754.48" font-size="14" fill="#2b2b2b" textLength="15.58" lengthAdjust="spacingAndGlyphs">34</text>
<text x="835.51" y="754.48" font-size="14" fill="#2b2b2b" textLength="15.58" lengthAdjust="spacingAndGlyphs">68</text>
<text x="678.50" y="778.00" font-size="14" fill="#2b2b2b" textLength="40.80" lengthAdjust="spacingAndGlyphs">350 cm</text>
<text x="763.01" y="778.00" font-size="14" fill="#2b2b2b" textLength="15.58" lengthAdjust="spacingAndGlyphs">35</text>
<text x="835.51" y="778.00" font-size="14" fill="#2b2b2b" textLength="15.58" lengthAdjust="spacingAndGlyphs">70</text>
<text x="914.40" y="190.00" font-size="14" fill="#2b2b2b" textLength="41.20" lengthAdjust="spacingAndGlyphs">360 cm</text>
<text x="999.41" y="190.00" font-size="14" fill="#2b2b2b" textLength="15.58" lengthAdjust="spacingAndGlyphs">36</text>
<text x="1071.91" y="190.00" font-size="14" fill="#2b2b2b" textLength="15.58" lengthAdjust="spacingAndGlyphs">72</text>
<text x="914.40" y="213.52" font-size="14" fill="#2b2b2b" textLength="41.20" lengthAdjust="spacingAndGlyphs">370 cm</text>
<text x="999.41" y="213.52" font-size="14" fill="#2b2b2b" textLength="15.58" lengthAdjust="spacingAndGlyphs">37</text>
<text x="1071.91" y="213.52" font-size="14" fill="#2b2b2b" textLength="15.58" lengthAdjust="spacingAndGlyphs">74</text>
<text x="914.40" y="237.04" font-size="14" fill="#2b2b2b" textLength="41.20" lengthAdjust="spacingAndGlyphs">380 cm</text>
<text x="999.41" y="237.04" font-size="14" fill="#2b2b2b" textLength="15.58" lengthAdjust="spacingAndGlyphs">38</text>
<text x="1071.91" y="237.04" font-size="14" fill="#2b2b2b" textLength="15.58" lengthAdjust="spacingAndGlyphs">76</text>
<text x="914.40" y="260.56" font-size="14" fill="#2b2b2b" textLength="41.20" lengthAdjust="spacingAndGlyphs">390 cm</text>
<text x="999.41" y="260.56" font-size="14" fill="#2b2b2b" textLength="15.58" lengthAdjust="spacingAndGlyphs">39</text>
<text x="1071.91" y="260.56" font-size="14" fill="#2b2b2b" textLength="15.58" lengthAdjust="spacingAndGlyphs">78</text>
<text x="914.40" y="284.08" font-size="14" fill="#2b2b2b" textLength="41.20" lengthAdjust="spacingAndGlyphs">400 cm</text>
<text x="999.41" y="284.08" font-size="14" fill="#2b2b2b" textLength="15.58" lengthAdjust="spacingAndGlyphs">40</text>
<text x="1071.91" y="284.08" font-size="14" fill="#2b2b2b" textLength="15.58" lengthAdjust="spacingAndGlyphs">80</text>
<text x="914.40" y="307.60" font-size="14" fill="#2b2b2b" textLength="41.20" lengthAdjust="spacingAndGlyphs">410 cm</text>
<text x="999.41" y="307.60" font-size="14" fill="#2b2b2b" textLength="15.58" lengthAdjust="spacingAndGlyphs">41</text>
<text x="1071.91" y="307.60" font-size="14" fill="#2b2b2b" textLength="15.58" lengthAdjust="spacingAndGlyphs">82</text>
<text x="914.40" y="331.12" font-size="14" fill="#2b2b2b" textLength="41.20" lengthAdjust="spacingAndGlyphs">420 cm</text>
<text x="999.41" y="331.12" font-size="14" fill="#2b2b2b" textLength="15.58" lengthAdjust="spacingAndGlyphs">42</text>
<text x="1071.91" y="331.12" font-size="14" fill="#2b2b2b" textLength="15.58" lengthAdjust="spacingAndGlyphs">84</text>
<text x="914.40" y="354.64" font-size="14" fill="#2b2b2b" textLength="41.20" lengthAdjust="spacingAndGlyphs">430 cm</text>
<text x="999.41" y="354.64" font-size="14" fill="#2b2b2b" textLength="15.58" lengthAdjust="spacingAndGlyphs">43</text>
<text x="1071.91" y="354.64" font-size="14" fill="#2b2b2b" textLength="15.58" lengthAdjust="spacingAndGlyphs">86</text>
<text x="914.40" y="378.16" font-size="14" fill="#2b2b2b" textLength="41.20" lengthAdjust="spacingAndGlyphs">440 cm</text>
<text x="999.41" y="378.16" font-size="14" fill="#2b2b2b" textLength="15.58" lengthAdjust="spacingAndGlyphs">44</text>
<text x="1071.91" y="378.16" font-size="14" fill="#2b2b2b" textLength="15.58" lengthAdjust="spacingAndGlyphs">88</text>
<text x="914.40" y="401.68" font-size="14" fill="#2b2b2b" textLength="41.20" lengthAdjust="spacingAndGlyphs">450 cm</text>
<text x="999.41" y="401.68" font-size="14" fill="#2b2b2b" textLength="15.58" lengthAdjust="spacingAndGlyphs">45</text>
<text x="1071.91" y="401.68" font-size="14" fill="#2b2b2b" textLength="15.58" lengthAdjust="spacingAndGlyphs">90</text>
<text x="914.40" y="425.20" font-size="14" fill="#2b2b2b" textLength="41.20" lengthAdjust="spacingAndGlyphs">460 cm</text>
<text x="999.41" y="425.20" font-size="14" fill="#2b2b2b" textLength="15.58" lengthAdjust="spacingAndGlyphs">46</text>
<text x="1071.91" y="425.20" font-size="14" fill="#2b2b2b" textLength="15.58" lengthAdjust="spacingAndGlyphs">92</text>
<text x="914.40" y="448.72" font-size="14" fill="#2b2b2b" textLength="41.20" lengthAdjust="spacingAndGlyphs">470 cm</text>
<text x="999.41" y="448.72" font-size="14" fill="#2b2b2b" textLength="15.58" lengthAdjust="spacingAndGlyphs">47</text>
<text x="1071.91" y="448.72" font-size="14" fill="#2b2b2b" textLength="15.58" lengthAdjust="spacingAndGlyphs">94</text>
<text x="914.40" y="472.24" font-size="14" fill="#2b2b2b" textLength="41.20" lengthAdjust="spacingAndGlyphs">480 cm</text>
<text x="999.41" y="472.24" font-size="14" fill="#2b2b2b" textLength="15.58" lengthAdjust="spacingAndGlyphs">48</text>
<text x="1071.91" y="472.24" font-size="14" fill="#2b2b2b" textLength="15.58" lengthAdjust="spacingAndGlyphs">96</text>
<text x="914.40" y="495.76" font-size="14" fill="#2b2b2b" textLength="41.20" lengthAdjust="spacingAndGlyphs">490 cm</text>
<text x="999.41" y="495.76" font-size="14" fill="#2b2b2b" textLength="15.58" lengthAdjust="spacingAndGlyphs">49</text>
<text x="1071.91" y="495.76" font-size="14" fill="#2b2b2b" textLength="15.58" lengthAdjust="spacingAndGlyphs">98</text>
<text x="914.40" y="519.28" font-size="14" fill="#2b2b2b" textLength="41.20" lengthAdjust="spacingAndGlyphs">500 cm</text>
<text x="999.41" y="519.28" font-size="14" fill="#2b2b2b" textLength="15.58" lengthAdjust="spacingAndGlyphs">50</text>
<text x="1068.02" y="519.28" font-size="14" fill="#2b2b2b" textLength="23.36" lengthAdjust="spacingAndGlyphs">100</text>
<text x="914.40" y="542.80" font-size="14" fill="#2b2b2b" textLength="41.20" lengthAdjust="spacingAndGlyphs">510 cm</text>
<text x="999.41" y="542.80" font-size="14" fill="#2b2b2b" textLength="15.58" lengthAdjust="spacingAndGlyphs">51</text>
<text x="1068.02" y="542.80" font-size="14" fill="#2b2b2b" textLength="23.36" lengthAdjust="spacingAndGlyphs">102</text>
<text x="914.40" y="566.32" font-size="14" fill="#2b2b2b" textLength="41.20" lengthAdjust="spacingAndGlyphs">520 cm</text>
<text x="999.41" y="566.32" font-size="14" fill="#2b2b2b" textLength="15.58" lengthAdjust="spacingAndGlyphs">52</text>
<text x="1068.02" y="566.32" font-size="14" fill="#2b2b2b" textLength="23.36" lengthAdjust="spacingAndGlyphs">104</text>
<text x="914.40" y="589.84" font-size="14" fill="#2b2b2b" textLength="41.20" lengthAdjust="spacingAndGlyphs">530 cm</text>
<text x="999.41" y="589.84" font-size="14" fill="#2b2b2b" textLength="15.58" lengthAdjust="spacingAndGlyphs">53</text>
<text x="1068.02" y="589.84" font-size="14" fill="#2b2b2b" textLength="23.36" lengthAdjust="spacingAndGlyphs">106</text>
<text x="914.40" y="613.36" font-size="14" fill="#2b2b2b" textLength="41.20" lengthAdjust="spacingAndGlyphs">540 cm</text>
<text x="999.41" y="613.36" font-size="14" fill="#2b2b2b" textLength="15.58" lengthAdjust="spacingAndGlyphs">54</text>
<text x="1068.02" y="613.36" font-size="14" fill="#2b2b2b" textLength="23.36" lengthAdjust="spacingAndGlyphs">108</text>
<text x="914.40" y="636.88" font-size="14" fill="#2b2b2b" textLength="41.20" lengthAdjust="spacingAndGlyphs">550 cm</text>
<text x="999.41" y="636.88" font-size="14" fill="#2b2b2b" textLength="15.58" lengthAdjust="spacingAndGlyphs">55</text>
<text x="1068.54" y="636.88" font-size="14" fill="#2b2b2b" textLength="22.33" lengthAdjust="spacingAndGlyphs">110</text>
<text x="914.40" y="660.40" font-size="14" fill="#2b2b2b" textLength="41.20" lengthAdjust="spacingAndGlyphs">560 cm</text>
<text x="999.41" y="660.40" font-size="14" fill="#2b2b2b" textLength="15.58" lengthAdjust="spacingAndGlyphs">56</text>
<text x="1068.54" y="660.40" font-size="14" fill="#2b2b2b" textLength="22.33" lengthAdjust="spacingAndGlyphs">112</text>
<text x="914.40" y="683.92" font-size="14" fill="#2b2b2b" textLength="41.20" lengthAdjust="spacingAndGlyphs">570 cm</text>
<text x="999.41" y="683.92" font-size="14" fill="#2b2b2b" textLength="15.58" lengthAdjust="spacingAndGlyphs">57</text>
<text x="1068.54" y="683.92" font-size="14" fill="#2b2b2b" textLength="22.33" lengthAdjust="spacingAndGlyphs">114</text>
<text x="914.40" y="707.44" font-size="14" fill="#2b2b2b" textLength="41.20" lengthAdjust="spacingAndGlyphs">580 cm</text>
<text x="999.41" y="707.44" font-size="14" fill="#2b2b2b" textLength="15.58" lengthAdjust="spacingAndGlyphs">58</text>
<text x="1068.54" y="707.44" font-size="14" fill="#2b2b2b" textLength="22.33" lengthAdjust="spacingAndGlyphs">116</text>
<text x="914.40" y="730.96" font-size="14" fill="#2b2b2b" textLength="41.20" lengthAdjust="spacingAndGlyphs">590 cm</text>
<text x="999.41" y="730.96" font-size="14" fill="#2b2b2b" textLength="15.58" lengthAdjust="spacingAndGlyphs">59</text>
<text x="1068.54" y="730.96" font-size="14" fill="#2b2b2b" textLength="22.33" lengthAdjust="spacingAndGlyphs">118</text>
<text x="914.40" y="754.48" font-size="14" fill="#2b2b2b" textLength="41.20" lengthAdjust="spacingAndGlyphs">600 cm</text>
<text x="999.41" y="754.48" font-size="14" fill="#2b2b2b" textLength="15.58" lengthAdjust="spacingAndGlyphs">60</text>
<text x="1068.02" y="754.48" font-size="14" fill="#2b2b2b" textLength="23.36" lengthAdjust="spacingAndGlyphs">120</text>
<text x="1107.10" y="827.10" font-size="10.9" fill="#2a2a2a" stroke="#2a2a2a" stroke-width="0.3" textLength="63.50" lengthAdjust="spacingAndGlyphs">Easy IL, 04/2024</text>
</g>
</svg>
</body></html>
